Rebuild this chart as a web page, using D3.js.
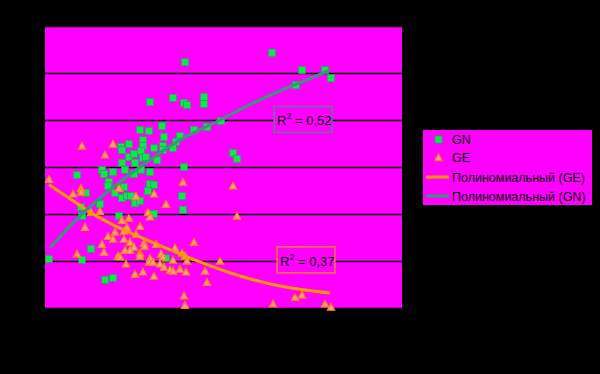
<!DOCTYPE html>
<html>
<head>
<meta charset="utf-8">
<script src="https://cdn.jsdelivr.net/npm/d3@7/dist/d3.min.js"></script>
<style>
  body { margin: 0; background: #000; }
  svg { display: block; font-family: "Liberation Sans", Arial, sans-serif; }
</style>
</head>
<body>
<div id="chart"></div>
<script>
// GN points
var gnX = [14.0, 10.5, 12.8, 13.9, 14.2, 15.9, 15.9, 22.7, 25.7, 28.0, 28.6, 25.1, 17.6, 16.2, 14.9,
    13.5, 11.9, 11.7, 10.4, 9.5, 9.8, 9.8, 7.6, 7.7, 8.4, 13.1, 10.9, 11.8, 11.8, 12.8,
    8.4, 8.9, 9.6, 9.8, 10.1, 11.2, 7.7, 9.0, 8.0, 8.9, 9.6, 10.5, 6.8, 5.7, 5.9,
    3.2, 13.9, 18.8, 19.2, 6.4, 6.3, 7.9, 10.5, 10.9, 7.0, 7.7, 8.2, 8.6, 9.0, 9.5,
    10.3, 13.7, 13.8, 4.1, 5.5, 3.6, 10.9, 7.4, 3.7, 4.6, 0.4, 3.7, 12.1, 6.0, 6.8];
var gnY = [5.23, 4.38, 4.47, 4.36, 4.32, 4.49, 4.34, 5.43, 5.06, 5.06, 4.89, 4.74, 3.98, 3.85, 3.79,
    3.66, 3.64, 3.87, 3.77, 3.79, 3.57, 3.45, 3.43, 3.36, 3.49, 3.53, 3.40, 3.45, 3.36, 3.40,
    3.21, 3.28, 3.34, 3.19, 3.21, 3.15, 3.09, 3.09, 2.94, 2.85, 2.94, 2.89, 2.89, 2.94, 2.85,
    2.83, 3.00, 3.30, 3.17, 2.68, 2.60, 2.57, 2.64, 2.62, 2.45, 2.34, 2.38, 2.38, 2.23, 2.28,
    2.49, 2.38, 2.09, 2.45, 2.21, 2.15, 2.00, 1.96, 1.96, 1.26, 1.04, 1.02, 1.06, 0.60, 0.64];

// GE points
var geX = [0.4, 3.7, 6.8, 6.0, 2.8, 3.6, 3.6, 7.4, 9.1, 10.9, 12.1, 13.8, 18.8, 19.2, 5.5,
    4.6, 4.0, 10.3, 10.5, 7.7, 8.4, 9.5, 8.2, 7.0, 7.9, 9.1, 6.3, 6.8, 7.9, 8.5,
    5.7, 9.9, 10.0, 8.9, 8.0, 8.5, 11.1, 5.9, 9.5, 9.5, 7.3, 7.5, 3.2, 11.6, 11.8,
    13.0, 13.7, 14.0, 14.9, 10.5, 10.4, 10.8, 12.8, 14.2, 17.5, 8.1, 11.5, 11.9, 12.5, 12.8,
    13.5, 14.1, 16.0, 9.0, 9.8, 10.9, 16.2, 13.9, 14.0, 22.8, 25.0, 25.7, 28.0, 28.6];
var geY = [2.74, 3.45, 3.49, 3.26, 2.43, 2.55, 2.47, 2.55, 2.38, 2.43, 2.21, 2.68, 2.60, 1.96, 2.06,
    2.04, 1.72, 2.04, 1.94, 1.87, 1.91, 1.74, 1.72, 1.62, 1.64, 1.57, 1.53, 1.47, 1.47, 1.40,
    1.36, 1.38, 1.32, 1.30, 1.23, 1.23, 1.36, 1.19, 1.17, 1.11, 1.11, 1.09, 1.15, 1.15, 1.09,
    1.28, 1.17, 1.11, 1.40, 1.06, 0.98, 0.98, 1.02, 1.00, 1.00, 0.94, 0.94, 0.87, 0.81, 0.79,
    0.83, 0.77, 0.79, 0.72, 0.77, 0.68, 0.55, 0.26, 0.06, 0.09, 0.23, 0.28, 0.09, 0.02];

// trend lines
var gnTrendX = [0.5, 4.0, 7.0, 10.5, 13.3, 17.5, 21.5, 25.2, 28.5];
var gnTrendY = [1.28, 2.06, 2.60, 3.15, 3.55, 4.00, 4.43, 4.77, 5.06];
var geTrendX = [0.4, 2.8, 4.5, 6.6, 9.7, 13.5, 15.5, 19.5, 23.5, 28.5];
var geTrendY = [2.62, 2.28, 2.04, 1.79, 1.49, 1.15, 0.98, 0.68, 0.47, 0.32];

var r2GE = "0,37";
var r2GN = "0,52";
var legendLabels = ["GN", "GE", "Полиномиальный (GE)", "Полиномиальный (GN)"];
var yTicks = [0, 1, 2, 3, 4, 5, 6];

var width = 600, height = 374;
var margin = {left: 45, top: 26, right: 198, bottom: 66};
var w = width - margin.left - margin.right;   // 357
var h = height - margin.top - margin.bottom;  // 282

var svg = d3.select("#chart").append("svg")
    .attr("width", width)
    .attr("height", height);

svg.append("rect").attr("width", width).attr("height", height).attr("fill", "#000");

var g = svg.append("g").attr("transform", "translate(" + margin.left + "," + margin.top + ")");

var x = d3.scaleLinear().domain([0, 35.7]).range([0, w]);
var y = d3.scaleLinear().domain([0, 6]).range([h, 0]);

// plot area
g.append("rect").attr("width", w).attr("height", h).attr("fill", "#ff00ff");

// gridlines
var grid = g.append("g")
    .call(d3.axisLeft(y).tickValues(yTicks).tickSize(-w).tickFormat(""));
grid.select(".domain").remove();
grid.selectAll("line").attr("stroke", "#000").attr("stroke-width", 1.3);

// GN squares
var gnData = gnX.map(function(d, i) { return [d, gnY[i]]; });
g.selectAll("rect.gn")
    .data(gnData)
    .enter()
    .append("rect")
    .attr("class", "gn")
    .attr("x", function(d) { return x(d[0]) - 3.5; })
    .attr("y", function(d) { return y(d[1]) - 3.5; })
    .attr("width", 7)
    .attr("height", 7)
    .attr("fill", "#0ee64a")
    .attr("stroke", "#2e9e6a")
    .attr("stroke-width", 0.8);

// GE triangles
var geData = geX.map(function(d, i) { return [d, geY[i]]; });
var tri = "M0,-3.6L3.6,3.2L-3.6,3.2Z";
g.selectAll("path.ge")
    .data(geData)
    .enter()
    .append("path")
    .attr("class", "ge")
    .attr("d", tri)
    .attr("transform", function(d) { return "translate(" + x(d[0]) + "," + y(d[1]) + ")"; })
    .attr("fill", "#ff99b0")
    .attr("stroke", "#ff8800")
    .attr("stroke-width", 1.2);

// trend lines
var line = d3.line()
    .x(function(d) { return x(d[0]); })
    .y(function(d) { return y(d[1]); })
    .curve(d3.curveMonotoneX);

g.append("path")
    .datum(geTrendX.map(function(d, i) { return [d, geTrendY[i]]; }))
    .attr("d", line)
    .attr("fill", "none")
    .attr("stroke", "#ff9900")
    .attr("stroke-width", 3);

g.append("path")
    .datum(gnTrendX.map(function(d, i) { return [d, gnTrendY[i]]; }))
    .attr("d", line)
    .attr("fill", "none")
    .attr("stroke", "#339977")
    .attr("stroke-width", 3);

// R^2 labels
function r2Box(bx, by, color, val) {
    var lb = g.append("g").attr("transform", "translate(" + bx + "," + by + ")");
    lb.append("rect")
        .attr("width", 58).attr("height", 26)
        .attr("fill", "#ff00ff")
        .attr("stroke", color).attr("stroke-width", 1.2);
    var t = lb.append("text")
        .attr("x", 3).attr("y", 19)
        .attr("font-size", 13)
        .attr("fill", "#000");
    t.append("tspan").text("R");
    t.append("tspan").attr("font-size", 9).attr("dy", -6).text("2");
    t.append("tspan").attr("dy", 6).text(" = " + val);
}
r2Box(x(22.9), y(4.29), "#339977", r2GN);
r2Box(x(23.2), y(1.30), "#ff9900", r2GE);

// legend
var leg = svg.append("g").attr("transform", "translate(423,130)");
leg.append("rect").attr("width", 169).attr("height", 75).attr("fill", "#ff00ff");
var rowY = [9.5, 27.5, 47, 66];
leg.append("rect").attr("x", 12).attr("y", rowY[0] - 3.5).attr("width", 7).attr("height", 7)
    .attr("fill", "#0ee64a").attr("stroke", "#2e9e6a").attr("stroke-width", 0.8);
leg.append("path").attr("d", tri).attr("transform", "translate(15.5," + rowY[1] + ")")
    .attr("fill", "#ff99b0").attr("stroke", "#ff8800").attr("stroke-width", 1.2);
leg.append("line").attr("x1", 3).attr("x2", 26).attr("y1", rowY[2]).attr("y2", rowY[2])
    .attr("stroke", "#ff9900").attr("stroke-width", 3);
leg.append("line").attr("x1", 3).attr("x2", 26).attr("y1", rowY[3]).attr("y2", rowY[3])
    .attr("stroke", "#339977").attr("stroke-width", 3);
leg.selectAll("text")
    .data(legendLabels)
    .enter()
    .append("text")
    .attr("x", 29)
    .attr("y", function(d, i) { return rowY[i] + 4.5; })
    .attr("font-size", 12.5)
    .attr("fill", "#000")
    .text(function(d) { return d; });
</script>
</body>
</html>
